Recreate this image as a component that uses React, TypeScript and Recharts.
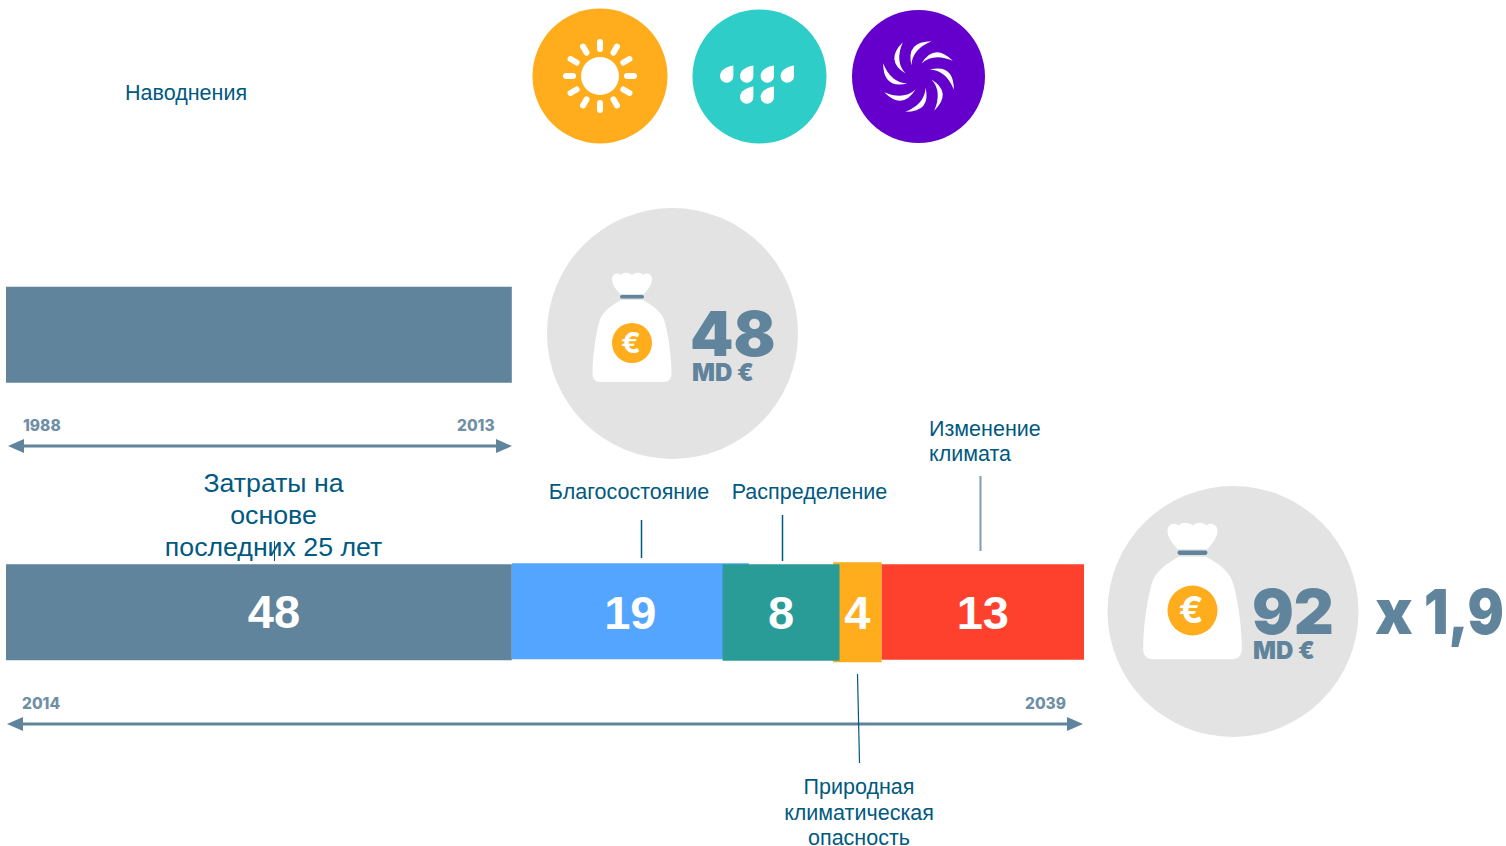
import React from 'react';
import { BarChart, Bar, XAxis, YAxis, LabelList } from 'recharts';

// Rows of the chart
const periods = ['1988-2013', '2014-2039'];
// Printed values (billions of euro)
const baseLabels = [null, '48'];
const wealthLabels = [null, '19'];
const distributionLabels = [null, '8'];
const hazardLabels = [null, '4'];
const climateLabels = [null, '13'];
// Drawn extents: [start, end] on a common axis
const baseSpans = [[0, 48], [0, 48]];
const wealthSpans = [null, [48, 70.5]];
const distributionSpans = [null, [68, 79.1]];
const hazardSpans = [null, [78.5, 83.1]];
const climateSpans = [null, [83.1, 102.3]];
const AXIS_MAX = 102.3;

const rows = periods.map((period, i) => ({
  period,
  base: baseSpans[i],
  wealth: wealthSpans[i],
  distribution: distributionSpans[i],
  hazard: hazardSpans[i],
  climate: climateSpans[i],
  baseLabel: baseLabels[i],
  wealthLabel: wealthLabels[i],
  distributionLabel: distributionLabels[i],
  hazardLabel: hazardLabels[i],
  climateLabel: climateLabels[i],
}));

const SLATE = '#5F849C';
const BLUE = '#54A5FF';
const TEAL = '#299C98';
const ORANGE = '#FFAD1C';
const RED = '#FE412D';
const INK = '#00597F';
const SANS = '"Liberation Sans", Arial, sans-serif';
const HEAVY = 'Inter, "DejaVu Sans", sans-serif';

const labelStyle = { fontFamily: SANS, fontWeight: 700, fontSize: 47 };

const edgeShape = (top: number, bottom: number, fill: string) => (p: any) => (
  <rect x={p.x} y={p.y - top} width={p.width} height={p.height + top + bottom} fill={fill} />
);

// The printed 48 sits a little right of the bar's centre in the reference.
const baseLabelContent = (p: any) =>
  p.value == null ? null : (
    <text
      x={p.x + p.width / 2 + 15}
      y={p.y + p.height / 2 + 16}
      textAnchor="middle"
      fill="#fff"
      style={labelStyle}
    >
      {p.value}
    </text>
  );

const Bag = ({ x, y, s }: { x: number; y: number; s: number }) => (
  <g transform={`translate(${x} ${y}) scale(${s})`}>
    <path
      fill="#fff"
      d="M-12,21 C-16,16 -20,12 -20,6 C-20,1 -14,-1 -11,2 C-9,-1 -3,-1 0,2 C3,-1 9,-1 11,2 C14,-1 20,1 20,6 C20,12 16,16 12,21 Z"
    />
    <rect x={-12} y={22} width={24} height={3.5} rx={1.7} fill={SLATE} />
    <path
      fill="#fff"
      d="M-11,27 C-22,33 -31,40 -33,50 C-37,65 -39.5,85 -39.5,101 C-39.5,106 -36,109 -32,109 L32,109 C36,109 39.5,106 39.5,101 C39.5,85 37,65 33,50 C31,40 22,33 11,27 Z"
    />
    <circle cx={0} cy={70} r={20} fill={ORANGE} />
    <text x={-1} y={80} textAnchor="middle" fill="#fff" fontFamily={HEAVY} fontWeight={700} fontSize={29}>€</text>
  </g>
);

const Arrow = ({ x1, x2, y }: { x1: number; x2: number; y: number }) => (
  <g fill={SLATE}>
    <rect x={x1 + 10} y={y - 1.5} width={x2 - x1 - 20} height={3} />
    <path d={`M${x1},${y} L${x1 + 16},${y - 7} L${x1 + 16},${y + 7} Z`} />
    <path d={`M${x2},${y} L${x2 - 16},${y - 7} L${x2 - 16},${y + 7} Z`} />
  </g>
);

const Sun = () => (
  <g>
    <circle cx={600} cy={76} r={67.5} fill={ORANGE} />
    <circle cx={600} cy={76} r={19} fill="#fff" />
    {[0, 30, 60, 90, 120, 150, 180, 210, 240, 270, 300, 330].map((a) => (
      <line
        key={a}
        x1={600}
        y1={76 - 27}
        x2={600}
        y2={76 - 34}
        stroke="#fff"
        strokeWidth={6}
        strokeLinecap="round"
        transform={`rotate(${a} 600 76)`}
      />
    ))}
  </g>
);

const DROP = 'M6.7,-8.5 L6.7,2 A6.7,6.7 0 1 1 -6.7,2 C-6.7,-4 0,-7.5 6.7,-8.5 Z';
const Rain = () => (
  <g>
    <circle cx={759.5} cy={76.5} r={67} fill="#2ECDC8" />
    {[[726.7, 74], [746.7, 74], [767.3, 74], [787.3, 74], [746.7, 95], [767.3, 95]].map(([x, y]) => (
      <path key={`${x}-${y}`} d={DROP} fill="#fff" transform={`translate(${x} ${y})`} />
    ))}
  </g>
);

const Swirl = () => (
  <g>
    <circle cx={918.5} cy={76.5} r={66.5} fill="#6500CC" />
    {[0, 45, 90, 135, 180, 225, 270, 315].map((a) => (
      <path
        key={a}
        fill="#fff"
        d="M3,-13 Q16,-34 34.3,-15.7 Q15,-24 3,-13 Z"
        transform={`translate(918.5 76.5) rotate(${a})`}
      />
    ))}
  </g>
);

const Ann = ({ x, y, size = 21.5, anchor = 'middle', children }: any) => (
  <text x={x} y={y} textAnchor={anchor} fontFamily={SANS} fontSize={size} fill={INK}>
    {children}
  </text>
);

const Year = ({ x, y, children }: any) => (
  <text x={x} y={y} fontFamily={HEAVY} fontWeight={800} fontSize={15.5} fill="#6F8FA5">
    {children}
  </text>
);

export default function App() {
  return (
    <div style={{ position: 'absolute', left: 0, top: 0, width: 1506, height: 846, background: '#fff', overflow: 'hidden' }}>
      <BarChart
        width={1506}
        height={846}
        data={rows}
        layout="vertical"
        barSize={96}
        barGap={-96}
        barCategoryGap={0}
        margin={{ left: 6, right: 422, top: 195.75, bottom: 95.25 }}
      >
        <XAxis type="number" domain={[0, AXIS_MAX]} hide allowDataOverflow />
        <YAxis type="category" dataKey="period" hide />
        <Bar dataKey="base" isAnimationActive={false} shape={edgeShape(0, 0, SLATE)}>
          <LabelList dataKey="baseLabel" content={baseLabelContent} />
        </Bar>
        <Bar dataKey="wealth" isAnimationActive={false} shape={edgeShape(1, -1, BLUE)}>
          <LabelList dataKey="wealthLabel" position="center" fill="#fff" style={labelStyle} />
        </Bar>
        <Bar dataKey="hazard" isAnimationActive={false} shape={edgeShape(2, 2, ORANGE)} />
        <Bar dataKey="distribution" isAnimationActive={false} shape={edgeShape(0, 0.5, TEAL)}>
          <LabelList dataKey="distributionLabel" position="center" fill="#fff" style={labelStyle} />
        </Bar>
        <Bar dataKey="climate" isAnimationActive={false} shape={edgeShape(0, -0.5, RED)}>
          <LabelList dataKey="climateLabel" position="center" fill="#fff" style={labelStyle} />
        </Bar>
        <Bar dataKey="hazard" isAnimationActive={false} shape={() => <g />}>
          <LabelList dataKey="hazardLabel" position="center" fill="#fff" style={labelStyle} />
        </Bar>
      </BarChart>

      <svg width={1506} height={846} style={{ position: 'absolute', left: 0, top: 0, pointerEvents: 'none' }}>
        <Sun />
        <Rain />
        <Swirl />
        <Ann x={125} y={100} anchor="start">Наводнения</Ann>

        <circle cx={672.5} cy={333.5} r={125.5} fill="#E3E3E3" />
        <Bag x={632} y={273} s={1} />
        <text x={690} y={356} fontFamily={HEAVY} fontWeight={900} fontSize={62} fill={SLATE}>48</text>
        <text x={692} y={381} fontFamily={HEAVY} fontWeight={900} fontSize={24} fill={SLATE}>MD €</text>

        <circle cx={1233} cy={611.5} r={125.5} fill="#E3E3E3" />
        <Bag x={1192.5} y={523} s={1.25} />
        <text x={1252} y={634} fontFamily={HEAVY} fontWeight={900} fontSize={62} fill={SLATE}>92</text>
        <text x={1253} y={659} fontFamily={HEAVY} fontWeight={900} fontSize={24} fill={SLATE}>MD €</text>
        <text x={1375} y={634} fontFamily={HEAVY} fontWeight={900} fontSize={62} fill={SLATE}>x</text>
        <g transform="translate(1424 634) scale(0.87 1)">
          <text x={0} y={0} fontFamily={HEAVY} fontWeight={900} fontSize={62} fill={SLATE}>1,9</text>
        </g>

        <Year x={23} y={431}>1988</Year>
        <Year x={457} y={431}>2013</Year>
        <Arrow x1={8} x2={512} y={446} />
        <Year x={22} y={709}>2014</Year>
        <Year x={1025} y={709}>2039</Year>
        <Arrow x1={7} x2={1083} y={724} />

        <Ann x={273.5} y={492} size={26.7}>Затраты на</Ann>
        <Ann x={273.5} y={524} size={26.7}>основе</Ann>
        <Ann x={273.5} y={556} size={26.7}>последних 25 лет</Ann>
        <line x1={274.5} y1={541} x2={274.5} y2={561} stroke={INK} strokeWidth={1} />

        <Ann x={629} y={499}>Благосостояние</Ann>
        <line x1={641.5} y1={520} x2={641.5} y2={558} stroke={INK} strokeWidth={1.5} />
        <Ann x={809.5} y={499}>Распределение</Ann>
        <line x1={782.5} y1={515} x2={782.5} y2={561} stroke={INK} strokeWidth={1.5} />
        <Ann x={929} y={436} anchor="start">Изменение</Ann>
        <Ann x={929} y={461} anchor="start">климата</Ann>
        <line x1={980.5} y1={476} x2={980.5} y2={551} stroke="#7F9DB0" strokeWidth={2} />
        <line x1={857.5} y1={674} x2={859.5} y2={763} stroke={INK} strokeWidth={1.2} />
        <Ann x={859} y={794}>Природная</Ann>
        <Ann x={859} y={820}>климатическая</Ann>
        <Ann x={859} y={845}>опасность</Ann>
      </svg>
    </div>
  );
}
